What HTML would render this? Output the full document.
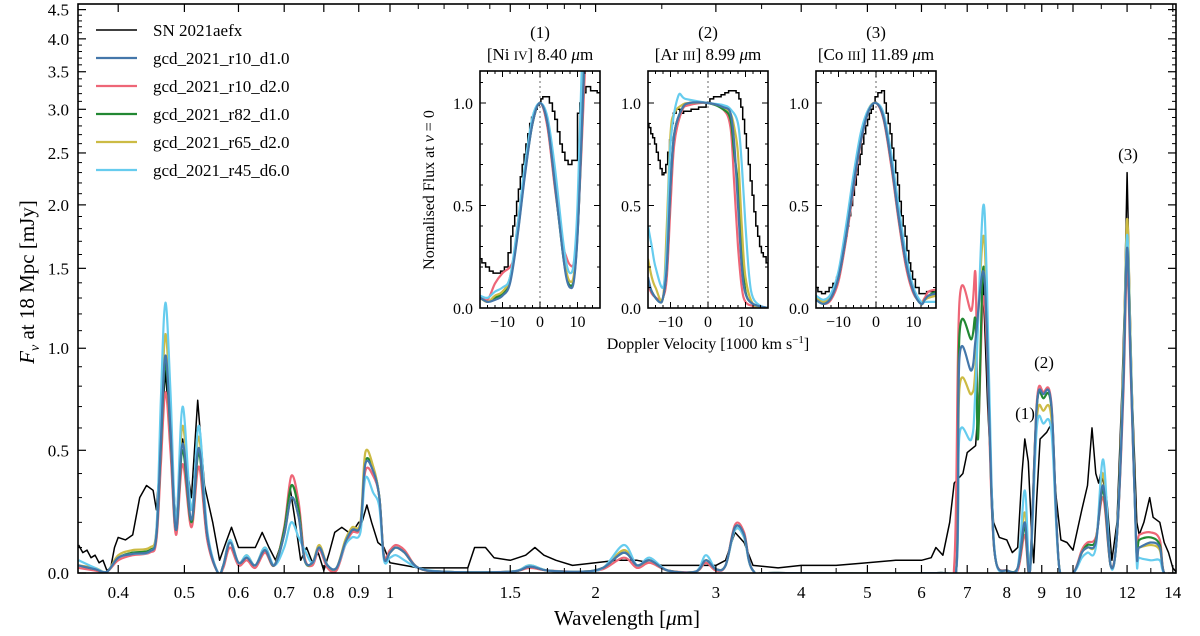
<!DOCTYPE html>
<html><head><meta charset="utf-8">
<style>
html,body{margin:0;padding:0;background:#fff;}
svg{display:block;font-family:"Liberation Serif","DejaVu Serif",serif;}
</style></head>
<body>
<svg id="chart" width="1200" height="636" viewBox="0 0 1200 636" xmlns="http://www.w3.org/2000/svg">
<defs>
<clipPath id="mainClip"><rect x="78" y="4" width="1098" height="569"/></clipPath>
<clipPath id="in0"><rect x="480" y="71" width="120" height="237"/></clipPath>
<clipPath id="in1"><rect x="648" y="71" width="120" height="237"/></clipPath>
<clipPath id="in2"><rect x="816" y="71" width="120" height="237"/></clipPath>
</defs>
<g id="main"></g>
<g id="insets"></g>
<g id="legend"></g>
<text x="627" y="625" font-size="21" text-anchor="middle">Wavelength [<tspan font-style="italic">μ</tspan>m]</text>
<text transform="translate(34,282) rotate(-90)" font-size="21" text-anchor="middle"><tspan font-style="italic">F</tspan><tspan font-style="italic" font-size="14" dy="5">ν</tspan><tspan dy="-5"> at 18 Mpc [mJy]</tspan></text>
<text x="1025" y="419" font-size="17" text-anchor="middle">(1)</text>
<text x="1044" y="368" font-size="17" text-anchor="middle">(2)</text>
<text x="1128" y="160" font-size="17" text-anchor="middle">(3)</text>
</svg>
<script>
// ---------- data ----------
const seriesNames = ["SN 2021aefx","gcd_2021_r10_d1.0","gcd_2021_r10_d2.0","gcd_2021_r82_d1.0","gcd_2021_r65_d2.0","gcd_2021_r45_d6.0"];
const xTickValues = [0.4,0.5,0.6,0.7,0.8,0.9,1,1.5,2,3,4,5,6,7,8,9,10,12,14];
const xTickLabels = ["0.4","0.5","0.6","0.7","0.8","0.9","1","1.5","2","3","4","5","6","7","8","9","10","12","14"];
const yTickValues = [0,0.5,1,1.5,2,2.5,3,3.5,4,4.5];
const yTickLabels = ["0.0","0.5","1.0","1.5","2.0","2.5","3.0","3.5","4.0","4.5"];

const obsSpec = [[0.35,0.11],[0.355,0.08],[0.36,0.09],[0.365,0.06],[0.37,0.07],[0.375,0.04],[0.38,0.05],[0.385,0.01],[0.39,0.02],[0.395,0.1],[0.40,0.14],[0.41,0.13],[0.42,0.15],[0.43,0.3],[0.44,0.35],[0.45,0.33],[0.455,0.25],[0.46,0.45],[0.469,0.88],[0.477,0.55],[0.486,0.2],[0.497,0.55],[0.512,0.3],[0.523,0.73],[0.535,0.35],[0.55,0.2],[0.563,0.05],[0.575,0.12],[0.586,0.18],[0.60,0.1],[0.62,0.1],[0.635,0.1],[0.65,0.16],[0.665,0.1],[0.68,0.05],[0.70,0.15],[0.714,0.34],[0.725,0.22],[0.74,0.05],[0.755,0.1],[0.77,0.04],[0.785,0.08],[0.80,0.01],[0.815,0.08],[0.83,0.16],[0.85,0.18],[0.87,0.16],[0.885,0.17],[0.90,0.2],[0.91,0.2],[0.925,0.27],[0.94,0.2],[0.96,0.12],[0.98,0.1],[1.0,0.04],[1.05,0.03],[1.1,0.02],[1.2,0.02],[1.3,0.02],[1.33,0.1],[1.38,0.1],[1.42,0.06],[1.5,0.05],[1.58,0.07],[1.63,0.1],[1.68,0.07],[1.75,0.05],[1.85,0.03],[2.0,0.04],[2.15,0.05],[2.3,0.05],[2.5,0.03],[2.8,0.03],[3.0,0.03],[3.1,0.05],[3.2,0.16],[3.3,0.12],[3.4,0.03],[3.7,0.02],[4.0,0.03],[4.5,0.03],[5.0,0.04],[5.5,0.05],[6.0,0.05],[6.2,0.06],[6.3,0.1],[6.45,0.07],[6.6,0.2],[6.7,0.36],[6.9,0.4],[7.0,0.49],[7.2,0.52],[7.3,0.8],[7.38,1.45],[7.5,0.7],[7.65,0.2],[7.8,0.14],[8.0,0.13],[8.15,0.08],[8.3,0.1],[8.42,0.4],[8.5,0.55],[8.6,0.45],[8.7,0.15],[8.76,0.04],[8.85,0.3],[8.95,0.55],[9.15,0.58],[9.3,0.62],[9.45,0.3],[9.6,0.13],[9.8,0.12],[10.0,0.09],[10.3,0.25],[10.5,0.35],[10.66,0.6],[10.8,0.4],[10.9,0.36],[11.0,0.41],[11.2,0.3],[11.4,0.05],[11.6,0.2],[11.8,0.8],[11.9,1.3],[12.0,2.3],[12.1,1.4],[12.2,0.8],[12.4,0.2],[12.5,0.15],[12.7,0.2],[12.95,0.3],[13.1,0.22],[13.4,0.2],[13.6,0.12],[13.8,0.08],[14.0,0.02],[14.2,0.0]];

const modelBlue = [[0.35,0.03],[0.37,0.015],[0.385,0.005],[0.40,0.06],[0.42,0.075],[0.445,0.085],[0.455,0.15],[0.462,0.55],[0.469,0.96],[0.477,0.6],[0.486,0.17],[0.497,0.53],[0.512,0.21],[0.525,0.51],[0.54,0.15],[0.56,0.0],[0.57,0.03],[0.583,0.12],[0.60,0.04],[0.617,0.06],[0.635,0.03],[0.656,0.09],[0.677,0.03],[0.70,0.15],[0.717,0.30],[0.735,0.22],[0.75,0.05],[0.77,0.04],[0.788,0.10],[0.81,0.03],[0.835,0.02],[0.86,0.12],[0.88,0.17],[0.905,0.19],[0.92,0.44],[0.945,0.41],[0.965,0.3],[0.98,0.06],[1.0,0.08],[1.02,0.10],[1.05,0.08],[1.1,0.02],[1.2,0.005],[1.5,0.005],[1.6,0.025],[1.7,0.01],[1.9,0.005],[2.05,0.02],[2.2,0.08],[2.3,0.03],[2.4,0.05],[2.55,0.01],[2.8,0.005],[2.9,0.05],[3.0,0.015],[3.1,0.03],[3.2,0.18],[3.3,0.15],[3.4,0.01],[3.7,0.0],[6.4,0.0],[6.75,0.02],[6.82,0.95],[7.1,0.88],[7.2,1.05],[7.38,1.48],[7.48,1.1],[7.6,0.3],[7.72,0.04],[8.0,0.01],[8.3,0.02],[8.5,0.2],[8.65,0.01],[8.85,0.7],[9.05,0.76],[9.3,0.7],[9.55,0.02],[10.0,0.0],[10.3,0.08],[10.5,0.1],[10.8,0.12],[11.07,0.35],[11.35,0.03],[11.6,0.15],[11.85,0.8],[12.0,1.65],[12.15,0.9],[12.38,0.1],[12.5,0.1],[13.0,0.12],[13.4,0.1],[13.6,0.0],[14.2,0.0]];

const modelRed = [[0.35,0.02],[0.37,0.01],[0.385,0.005],[0.40,0.05],[0.42,0.07],[0.445,0.08],[0.455,0.13],[0.462,0.45],[0.469,0.77],[0.477,0.5],[0.486,0.15],[0.497,0.44],[0.512,0.18],[0.525,0.43],[0.54,0.13],[0.56,0.0],[0.57,0.02],[0.583,0.1],[0.60,0.03],[0.617,0.05],[0.635,0.02],[0.656,0.08],[0.677,0.03],[0.70,0.18],[0.717,0.39],[0.735,0.28],[0.75,0.06],[0.77,0.03],[0.788,0.09],[0.81,0.02],[0.835,0.01],[0.86,0.11],[0.88,0.16],[0.905,0.18],[0.92,0.41],[0.945,0.39],[0.965,0.3],[0.98,0.07],[1.0,0.09],[1.02,0.11],[1.05,0.09],[1.1,0.02],[1.2,0.005],[1.5,0.005],[1.6,0.02],[1.7,0.01],[1.9,0.005],[2.05,0.015],[2.2,0.06],[2.3,0.02],[2.4,0.04],[2.55,0.01],[2.8,0.005],[2.9,0.04],[3.0,0.01],[3.1,0.03],[3.2,0.19],[3.3,0.16],[3.4,0.01],[3.7,0.0],[6.4,0.0],[6.7,0.03],[6.82,1.28],[7.1,1.22],[7.2,1.45],[7.26,0.6],[7.38,1.29],[7.48,1.0],[7.6,0.28],[7.72,0.04],[8.0,0.01],[8.3,0.01],[8.5,0.15],[8.65,0.01],[8.85,0.72],[9.05,0.77],[9.3,0.71],[9.55,0.02],[10.0,0.0],[10.3,0.09],[10.5,0.12],[10.8,0.14],[11.07,0.3],[11.35,0.03],[11.6,0.15],[11.85,0.75],[12.0,1.52],[12.15,0.85],[12.38,0.12],[12.5,0.15],[13.0,0.16],[13.4,0.13],[13.6,0.0],[14.2,0.0]];

const modelGreen = [[0.35,0.03],[0.37,0.015],[0.385,0.005],[0.40,0.06],[0.42,0.08],[0.445,0.09],[0.455,0.15],[0.462,0.53],[0.469,0.92],[0.477,0.58],[0.486,0.17],[0.497,0.5],[0.512,0.2],[0.525,0.49],[0.54,0.15],[0.56,0.0],[0.57,0.03],[0.583,0.12],[0.60,0.04],[0.617,0.06],[0.635,0.03],[0.656,0.09],[0.677,0.03],[0.70,0.17],[0.717,0.35],[0.735,0.25],[0.75,0.05],[0.77,0.04],[0.788,0.10],[0.81,0.03],[0.835,0.02],[0.86,0.12],[0.88,0.17],[0.905,0.19],[0.92,0.45],[0.945,0.42],[0.965,0.3],[0.98,0.06],[1.0,0.08],[1.02,0.10],[1.05,0.08],[1.1,0.02],[1.2,0.005],[1.5,0.005],[1.6,0.025],[1.7,0.01],[1.9,0.005],[2.05,0.02],[2.2,0.08],[2.3,0.03],[2.4,0.05],[2.55,0.01],[2.8,0.005],[2.9,0.05],[3.0,0.015],[3.1,0.03],[3.2,0.18],[3.3,0.15],[3.4,0.01],[3.7,0.0],[6.4,0.0],[6.75,0.02],[6.82,1.08],[7.1,1.05],[7.2,1.15],[7.26,0.55],[7.38,1.48],[7.48,1.1],[7.6,0.3],[7.72,0.04],[8.0,0.01],[8.3,0.02],[8.5,0.18],[8.65,0.01],[8.85,0.7],[9.05,0.74],[9.3,0.69],[9.55,0.02],[10.0,0.0],[10.3,0.08],[10.5,0.11],[10.8,0.13],[11.07,0.33],[11.35,0.03],[11.6,0.15],[11.85,0.82],[12.0,1.7],[12.15,0.92],[12.38,0.1],[12.5,0.13],[13.0,0.14],[13.4,0.11],[13.6,0.0],[14.2,0.0]];

const modelYellow = [[0.35,0.03],[0.37,0.02],[0.385,0.005],[0.40,0.07],[0.42,0.09],[0.445,0.1],[0.455,0.17],[0.462,0.62],[0.469,1.08],[0.477,0.68],[0.486,0.2],[0.497,0.61],[0.512,0.25],[0.525,0.56],[0.54,0.16],[0.56,0.0],[0.57,0.03],[0.583,0.13],[0.60,0.04],[0.617,0.07],[0.635,0.03],[0.656,0.1],[0.677,0.03],[0.70,0.15],[0.717,0.30],[0.735,0.22],[0.75,0.05],[0.77,0.04],[0.788,0.11],[0.81,0.03],[0.835,0.02],[0.86,0.13],[0.88,0.18],[0.905,0.2],[0.92,0.49],[0.945,0.43],[0.965,0.3],[0.98,0.06],[1.0,0.08],[1.02,0.10],[1.05,0.08],[1.1,0.02],[1.2,0.005],[1.5,0.005],[1.6,0.03],[1.7,0.01],[1.9,0.005],[2.05,0.02],[2.2,0.09],[2.3,0.03],[2.4,0.05],[2.55,0.01],[2.8,0.005],[2.9,0.05],[3.0,0.015],[3.1,0.03],[3.2,0.17],[3.3,0.14],[3.4,0.01],[3.7,0.0],[6.4,0.0],[6.75,0.02],[6.82,0.79],[7.1,0.76],[7.2,0.9],[7.38,1.73],[7.48,1.25],[7.6,0.32],[7.72,0.04],[8.0,0.01],[8.3,0.02],[8.5,0.24],[8.65,0.01],[8.85,0.64],[9.05,0.68],[9.3,0.64],[9.55,0.02],[10.0,0.0],[10.3,0.08],[10.5,0.1],[10.8,0.12],[11.07,0.4],[11.35,0.03],[11.6,0.16],[11.85,0.9],[12.0,1.88],[12.15,1.0],[12.38,0.1],[12.5,0.1],[13.0,0.11],[13.4,0.09],[13.6,0.0],[14.2,0.0]];

const modelCyan = [[0.35,0.05],[0.37,0.02],[0.385,0.005],[0.40,0.06],[0.42,0.075],[0.445,0.085],[0.455,0.17],[0.462,0.75],[0.469,1.27],[0.477,0.78],[0.486,0.2],[0.497,0.70],[0.512,0.25],[0.525,0.61],[0.54,0.17],[0.56,0.0],[0.57,0.03],[0.583,0.13],[0.60,0.04],[0.617,0.07],[0.635,0.03],[0.656,0.1],[0.677,0.03],[0.70,0.1],[0.717,0.2],[0.735,0.14],[0.75,0.09],[0.77,0.04],[0.788,0.10],[0.81,0.03],[0.835,0.02],[0.86,0.11],[0.88,0.14],[0.905,0.16],[0.92,0.38],[0.945,0.32],[0.965,0.26],[0.98,0.05],[1.0,0.06],[1.02,0.07],[1.05,0.05],[1.1,0.02],[1.2,0.005],[1.5,0.005],[1.6,0.03],[1.7,0.01],[1.9,0.005],[2.05,0.02],[2.2,0.11],[2.3,0.03],[2.4,0.06],[2.55,0.01],[2.8,0.005],[2.9,0.07],[3.0,0.015],[3.1,0.03],[3.2,0.17],[3.3,0.14],[3.4,0.01],[3.7,0.0],[6.4,0.0],[6.75,0.02],[6.82,0.57],[7.1,0.55],[7.2,0.8],[7.38,1.97],[7.48,1.4],[7.6,0.35],[7.72,0.04],[8.0,0.01],[8.3,0.02],[8.5,0.33],[8.65,0.01],[8.85,0.6],[9.05,0.62],[9.3,0.58],[9.55,0.02],[10.0,0.0],[10.3,0.06],[10.5,0.08],[10.8,0.1],[11.07,0.46],[11.35,0.03],[11.6,0.16],[11.85,0.85],[12.0,1.75],[12.15,0.95],[12.38,0.08],[12.5,0.06],[13.0,0.05],[13.4,0.05],[13.6,0.0],[14.2,0.0]];

// insets: [velocity (1000 km/s), normalised flux]
const inset1Obs = [[-16,0.24],[-15,0.22],[-14,0.2],[-13,0.18],[-12,0.17],[-11,0.17],[-10,0.18],[-9,0.2],[-8,0.27],[-7.5,0.35],[-7,0.4],[-6.5,0.45],[-6,0.52],[-5.5,0.58],[-5,0.64],[-4.5,0.7],[-4,0.75],[-3.5,0.8],[-3,0.85],[-2.5,0.9],[-2,0.93],[-1.5,0.95],[-1,0.97],[-0.5,0.99],[0,1.0],[0.5,1.02],[1,1.03],[2,1.03],[3,1.0],[3.6,0.96],[4.3,0.92],[5,0.86],[5.6,0.8],[6.3,0.76],[7,0.72],[8,0.7],[9,0.72],[9.8,0.72],[10.2,0.95],[11,1.0],[12,1.05],[12.5,1.08],[14.5,1.06],[16,1.05]];
const inset1Blue = [[-16,0.05],[-14,0.03],[-12,0.04],[-10,0.06],[-8,0.12],[-6,0.35],[-4,0.65],[-2,0.9],[0,1.0],[2,0.9],[4,0.6],[6,0.28],[7,0.15],[8,0.1],[9,0.13],[10,0.35],[11,0.8],[12,1.3]];
const inset1Red = [[-16,0.06],[-14,0.04],[-12,0.12],[-10,0.17],[-8,0.2],[-7,0.25],[-6,0.4],[-4,0.68],[-2,0.9],[0,1.0],[2,0.88],[4,0.58],[6,0.32],[7,0.25],[8,0.21],[9,0.22],[10,0.38],[11,0.75],[12.3,1.3]];
const inset1Green = [[-16,0.05],[-14,0.03],[-12,0.05],[-10,0.07],[-8,0.13],[-6,0.36],[-4,0.66],[-2,0.9],[0,1.0],[2,0.9],[4,0.6],[6,0.28],[7,0.16],[8,0.11],[9,0.14],[10,0.36],[11,0.8],[12,1.3]];
const inset1Yellow = [[-16,0.05],[-14,0.03],[-12,0.06],[-10,0.08],[-8,0.15],[-6,0.38],[-4,0.68],[-2,0.92],[0,1.0],[2,0.91],[4,0.62],[6,0.3],[7,0.18],[8,0.13],[9,0.16],[10,0.38],[11,0.82],[12,1.3]];
const inset1Cyan = [[-16,0.06],[-14,0.05],[-12,0.08],[-10,0.1],[-8,0.15],[-6,0.4],[-4,0.7],[-2,0.93],[0,1.0],[2,0.93],[4,0.68],[6,0.35],[7,0.22],[8,0.17],[9,0.22],[10,0.5],[11,1.1],[11.5,1.3]];

const inset2Obs = [[-16,0.9],[-15.5,0.88],[-15,0.85],[-14.5,0.83],[-14,0.8],[-13.5,0.76],[-13,0.72],[-12.5,0.68],[-12,0.65],[-11.5,0.66],[-11,0.7],[-10.5,0.76],[-10,0.82],[-9.5,0.9],[-9,0.95],[-8,0.97],[-7,0.95],[-6,0.96],[-5,0.96],[-4,0.97],[-3,0.97],[-2,0.98],[-1,0.98],[0,1.0],[1,1.02],[2,1.03],[3,1.03],[4,1.04],[5,1.05],[6,1.06],[7,1.06],[8,1.05],[8.5,1.02],[9,0.98],[9.5,0.92],[10,0.85],[10.5,0.78],[11,0.7],[11.5,0.62],[12,0.55],[12.5,0.47],[13,0.4],[13.5,0.35],[14,0.3],[14.5,0.27],[15,0.25],[16,0.22]];
const inset2Blue = [[-16,0.15],[-15,0.08],[-13,0.03],[-12,0.05],[-11,0.2],[-10,0.6],[-9,0.85],[-7,0.97],[-5,1.0],[0,1.0],[4,0.98],[6,0.95],[7,0.8],[8,0.5],[9,0.2],[10,0.07],[12,0.02],[16,0.0]];
const inset2Red = [[-16,0.12],[-15,0.07],[-13,0.04],[-12,0.05],[-11,0.15],[-10,0.5],[-9,0.8],[-7,0.96],[-5,0.99],[0,1.0],[4,0.97],[6,0.88],[7,0.6],[8,0.3],[9,0.1],[10,0.03],[12,0.01],[16,0.0]];
const inset2Green = [[-16,0.14],[-15,0.08],[-13,0.03],[-12,0.05],[-11,0.2],[-10,0.6],[-9,0.85],[-7,0.97],[-5,1.0],[0,1.0],[4,0.97],[6,0.92],[7,0.75],[8,0.6],[9,0.3],[10,0.08],[12,0.02],[16,0.0]];
const inset2Yellow = [[-16,0.24],[-15,0.15],[-14,0.1],[-12,0.05],[-11,0.4],[-10,0.85],[-9,0.95],[-7,0.99],[-5,1.0],[0,1.0],[4,0.98],[6,0.95],[7,0.88],[8,0.75],[9,0.4],[10,0.15],[12,0.02],[16,0.0]];
const inset2Cyan = [[-16,0.4],[-15,0.3],[-14,0.2],[-12,0.1],[-11,0.3],[-10,0.8],[-8,1.03],[-6,1.02],[0,1.0],[4,0.99],[6,0.97],[8,0.9],[9,0.7],[10,0.4],[11,0.15],[12,0.05],[14,0.01],[16,0.0]];

const inset3Obs = [[-16,0.1],[-15,0.08],[-14,0.07],[-13,0.08],[-12,0.1],[-11,0.12],[-10,0.15],[-9.5,0.2],[-9,0.25],[-8.5,0.3],[-8,0.35],[-7.5,0.4],[-7,0.45],[-6.5,0.5],[-6,0.55],[-5.5,0.6],[-5,0.65],[-4.5,0.7],[-4,0.75],[-3.5,0.8],[-3,0.85],[-2.5,0.89],[-2,0.92],[-1.5,0.95],[-1,0.97],[-0.5,1.0],[0,1.03],[1,1.05],[2,1.06],[2.5,1.0],[3,0.95],[3.5,0.9],[4,0.85],[4.5,0.78],[5,0.72],[5.5,0.66],[6,0.6],[6.5,0.52],[7,0.45],[7.5,0.4],[8,0.35],[8.5,0.28],[9,0.22],[9.5,0.18],[10,0.14],[11,0.1],[12,0.07],[13,0.07],[14,0.08],[16,0.08]];
const inset3Blue = [[-16,0.04],[-14,0.02],[-12,0.05],[-10,0.15],[-8,0.35],[-6,0.6],[-4,0.82],[-2,0.96],[0,1.0],[2,0.93],[4,0.72],[6,0.45],[8,0.22],[10,0.08],[12,0.02],[13,0.04],[14,0.06],[16,0.07]];
const inset3Red = [[-16,0.05],[-14,0.02],[-12,0.04],[-10,0.13],[-8,0.33],[-6,0.58],[-4,0.81],[-2,0.96],[0,1.0],[2,0.92],[4,0.7],[6,0.43],[8,0.2],[10,0.07],[12,0.03],[13,0.05],[14,0.08],[16,0.09]];
const inset3Green = [[-16,0.04],[-14,0.02],[-12,0.05],[-10,0.15],[-8,0.35],[-6,0.6],[-4,0.82],[-2,0.96],[0,1.0],[2,0.93],[4,0.72],[6,0.45],[8,0.22],[10,0.08],[12,0.02],[13,0.04],[14,0.06],[16,0.08]];
const inset3Yellow = [[-16,0.05],[-14,0.03],[-12,0.06],[-10,0.16],[-8,0.37],[-6,0.62],[-4,0.84],[-2,0.97],[0,1.0],[2,0.94],[4,0.73],[6,0.46],[8,0.23],[10,0.09],[12,0.03],[13,0.04],[14,0.05],[16,0.06]];
const inset3Cyan = [[-16,0.06],[-14,0.04],[-12,0.07],[-10,0.18],[-8,0.4],[-6,0.65],[-4,0.86],[-2,0.97],[0,1.0],[2,0.95],[4,0.76],[6,0.5],[8,0.26],[10,0.1],[12,0.03],[13,0.03],[14,0.03],[16,0.03]];

const insetTitles = ["(1)","(2)","(3)"];
const insetSubtitles = [["Ni","IV","8.40"],["Ar","III","8.99"],["Co","III","11.89"]];
const inVelTicks = [-10,0,10];
const inFluxTicks = [0,0.5,1.0];
const inFluxLabels = ["0.0","0.5","1.0"];

// ---------- rendering ----------
const NS = "http://www.w3.org/2000/svg";
const colors = ["#000000","#4477AA","#EE6677","#228833","#CCBB44","#66CCEE"];
const xMain = l => 390 + 683 * Math.log10(l);
const yMain = v => 573 - 255 * Math.asinh(v);
const panelLeft = [480, 648, 816];
const PW = 120, PTOP = 71, PBOT = 308;
const xIn = (p, v) => panelLeft[p] + 60 + v * 3.75;
const yIn = f => PBOT - 205 * f;

function mk(tag, attrs, parent) {
  const e = document.createElementNS(NS, tag);
  for (const k in attrs) e.setAttribute(k, attrs[k]);
  parent.appendChild(e);
  return e;
}
function smoothPath(pts) {
  let d = "M" + pts[0][0].toFixed(1) + "," + pts[0][1].toFixed(1);
  const t = 1 / 6;
  for (let i = 0; i < pts.length - 1; i++) {
    const p0 = pts[Math.max(0, i - 1)], p1 = pts[i], p2 = pts[i + 1], p3 = pts[Math.min(pts.length - 1, i + 2)];
    const c1x = p1[0] + (p2[0] - p0[0]) * t, c1y = p1[1] + (p2[1] - p0[1]) * t;
    const c2x = p2[0] - (p3[0] - p1[0]) * t, c2y = p2[1] - (p3[1] - p1[1]) * t;
    d += " C" + c1x.toFixed(1) + "," + c1y.toFixed(1) + " " + c2x.toFixed(1) + "," + c2y.toFixed(1) + " " + p2[0].toFixed(1) + "," + p2[1].toFixed(1);
  }
  return d;
}
function linePath(pts) {
  return "M" + pts.map(p => p[0].toFixed(1) + "," + p[1].toFixed(1)).join(" L");
}
function stepPath(pts) {
  let d = "M" + pts[0][0].toFixed(1) + "," + pts[0][1].toFixed(1);
  for (let i = 1; i < pts.length; i++) {
    const xm = (pts[i - 1][0] + pts[i][0]) / 2;
    d += " H" + xm.toFixed(1) + " V" + pts[i][1].toFixed(1);
  }
  d += " H" + pts[pts.length - 1][0].toFixed(1);
  return d;
}

const main = document.getElementById("main");
const models = [modelRed, modelGreen, modelYellow, modelCyan, modelBlue];
const modelColors = ["#EE6677","#228833","#CCBB44","#66CCEE","#4477AA"];
const modelKeys = ["red", "green", "yellow", "cyan", "blue"];
const mclip = mk("g", {"clip-path": "url(#mainClip)"}, main);


{
  const pts = obsSpec.map(p => [xMain(p[0]), yMain(p[1])]);
  const el = mk("path", {d: linePath(pts), fill: "none", stroke: "#000", "stroke-width": 1.5, "stroke-linejoin": "round"}, mclip);
  
  
}
models.forEach((m, i) => {
  const pts = m.map(p => [xMain(p[0]), yMain(p[1])]);
  const el = mk("path", {d: smoothPath(pts), fill: "none", stroke: modelColors[i], "stroke-width": 2.2, "stroke-linejoin": "round"}, mclip);
  
  
});
const frame = mk("rect", {x: 78, y: 4, width: 1098, height: 569, fill: "none", stroke: "#000", "stroke-width": 1.6}, main);


const xMinor = [];
for (let v = 1.1; v < 1.95; v += 0.1) if (Math.abs(v - 1.5) > 0.01) xMinor.push(v);
[2.5, 3.5, 4.5, 5.5, 6.5, 7.5, 8.5, 9.5, 11, 13].forEach(v => xMinor.push(v));
xTickValues.forEach((v, i) => {
  const x = xMain(v);
  mk("line", {x1: x, x2: x, y1: 573, y2: 565, stroke: "#000", "stroke-width": 1.2}, main);
  mk("line", {x1: x, x2: x, y1: 4, y2: 12, stroke: "#000", "stroke-width": 1.2}, main);
  const t = mk("text", {x: x, y: 598, "font-size": 17, "text-anchor": "middle"}, main);
  t.textContent = xTickLabels[i];
  
  
});
xMinor.forEach(v => {
  const x = xMain(v);
  mk("line", {x1: x, x2: x, y1: 573, y2: 568, stroke: "#000", "stroke-width": 1}, main);
  mk("line", {x1: x, x2: x, y1: 4, y2: 9, stroke: "#000", "stroke-width": 1}, main);
});
yTickValues.forEach((v, i) => {
  const y = yMain(v);
  mk("line", {x1: 78, x2: 86, y1: y, y2: y, stroke: "#000", "stroke-width": 1.2}, main);
  mk("line", {x1: 1176, x2: 1168, y1: y, y2: y, stroke: "#000", "stroke-width": 1.2}, main);
  const t = mk("text", {x: 69, y: y + 6, "font-size": 17, "text-anchor": "end"}, main);
  t.textContent = yTickLabels[i];
  
  
});
for (let k = 1; k <= 45; k++) {
  if (k % 5 === 0) continue;
  const y = yMain(k / 10);
  mk("line", {x1: 78, x2: 82, y1: y, y2: y, stroke: "#000", "stroke-width": 1}, main);
  mk("line", {x1: 1176, x2: 1172, y1: y, y2: y, stroke: "#000", "stroke-width": 1}, main);
}

// insets
const insets = document.getElementById("insets");
const insetData = [
  [inset1Obs, inset1Red, inset1Green, inset1Yellow, inset1Cyan, inset1Blue],
  [inset2Obs, inset2Red, inset2Green, inset2Yellow, inset2Cyan, inset2Blue],
  [inset3Obs, inset3Red, inset3Green, inset3Yellow, inset3Cyan, inset3Blue]
];
const insetColors = ["#000000","#EE6677","#228833","#CCBB44","#66CCEE","#4477AA"];
insetData.forEach((set, p) => {
  const g = mk("g", {}, insets);
  
  
  const cx = panelLeft[p] + PW / 2;
  const t1 = mk("text", {x: cx, y: 38, "font-size": 17, "text-anchor": "middle"}, g);
  t1.textContent = insetTitles[p];
  
  
  const s = insetSubtitles[p];
  const t2 = mk("text", {x: cx, y: 60, "font-size": 17, "text-anchor": "middle"}, g);
  t2.innerHTML = '[' + s[0] + ' <tspan font-size="13">' + s[1] + '</tspan>] ' + s[2] + ' <tspan font-style="italic">μ</tspan>m';
  
  
  const cg = mk("g", {"clip-path": "url(#in" + p + ")"}, g);
  mk("line", {x1: xIn(p, 0), x2: xIn(p, 0), y1: PTOP, y2: PBOT, stroke: "#999", "stroke-width": 1.5, "stroke-dasharray": "2,3"}, cg);
  set.forEach((arr, si) => {
    const pts = arr.map(q => [xIn(p, q[0]), yIn(q[1])]);
    const el = mk("path", {d: si === 0 ? stepPath(pts) : smoothPath(pts), fill: "none", stroke: insetColors[si], "stroke-width": si === 0 ? 1.5 : 2.2}, cg);
    
    
  });
  mk("rect", {x: panelLeft[p], y: PTOP, width: PW, height: PBOT - PTOP, fill: "none", stroke: "#000", "stroke-width": 1.6}, g);
  for (let v = -16; v <= 16; v += 2) {
    const x = xIn(p, v), major = inVelTicks.includes(v), L = major ? 6 : 3;
    mk("line", {x1: x, x2: x, y1: PBOT, y2: PBOT - L, stroke: "#000", "stroke-width": 1}, g);
    mk("line", {x1: x, x2: x, y1: PTOP, y2: PTOP + L, stroke: "#000", "stroke-width": 1}, g);
  }
  inVelTicks.forEach(v => {
    const t = mk("text", {x: xIn(p, v), y: 327, "font-size": 16, "text-anchor": "middle"}, g);
    t.textContent = v < 0 ? "−" + Math.abs(v) : String(v);
    
    
  });
  for (let k = 0; k <= 11; k++) {
    const y = yIn(k / 10), major = k % 5 === 0, L = major ? 6 : 3;
    mk("line", {x1: panelLeft[p], x2: panelLeft[p] + L, y1: y, y2: y, stroke: "#000", "stroke-width": 1}, g);
    mk("line", {x1: panelLeft[p] + PW, x2: panelLeft[p] + PW - L, y1: y, y2: y, stroke: "#000", "stroke-width": 1}, g);
  }
  inFluxTicks.forEach((v, i) => {
    const t = mk("text", {x: panelLeft[p] - 7, y: yIn(v) + 6, "font-size": 16, "text-anchor": "end"}, g);
    t.textContent = inFluxLabels[i];
    
    
  });
});
{
  const t = mk("text", {x: 708, y: 349, "font-size": 16, "text-anchor": "middle"}, insets);
  t.innerHTML = 'Doppler Velocity [1000 km s<tspan font-size="11" dy="-6">−1</tspan><tspan dy="6">]</tspan>';
  
  
  const t2 = mk("text", {transform: "translate(434,190) rotate(-90)", "font-size": 16, "text-anchor": "middle"}, insets);
  t2.innerHTML = 'Normalised Flux at <tspan font-style="italic">v</tspan> = 0';
  
  
}

// legend
const legend = document.getElementById("legend");
seriesNames.forEach((n, i) => {
  const y = 30 + i * 28;
  const ln = mk("line", {x1: 96, x2: 137, y1: y, y2: y, stroke: colors[i], "stroke-width": i === 0 ? 1.5 : 2.2}, legend);
  
  
  const t = mk("text", {x: 153, y: y + 6, "font-size": 17}, legend);
  t.textContent = n;
  
  
});
</script>
</body></html>
